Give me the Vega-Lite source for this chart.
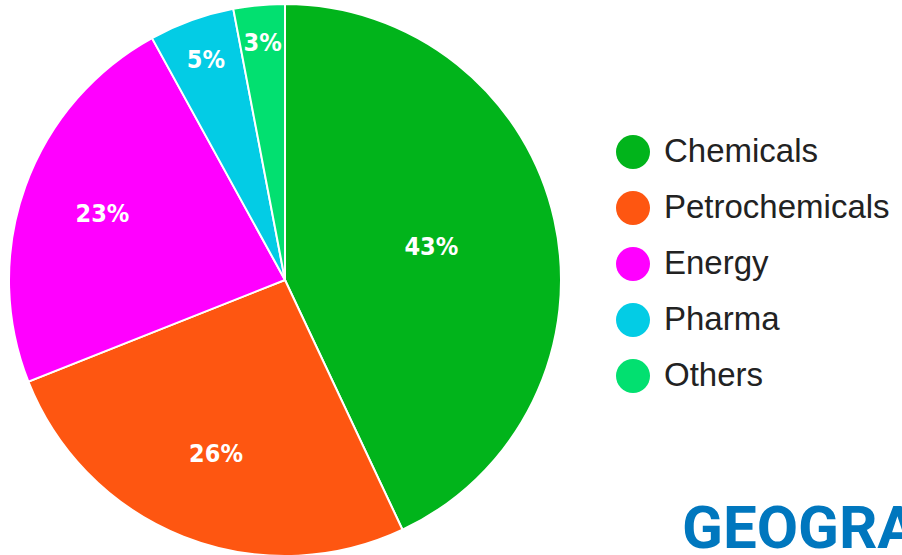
{
  "$schema": "https://vega.github.io/schema/vega-lite/v6.json",
  "width": 570,
  "height": 560,
  "autosize": {"type": "pad"},
  "padding": 0,
  "background": "white",
  "config": {"view": {"stroke": null}},
  "title": {
    "text": "GEOGRAPHY",
    "orient": "bottom",
    "anchor": "start",
    "frame": "group",
    "baseline": "alphabetic",
    "offset": -12,
    "dx": 682,
    "font": "Roboto",
    "fontWeight": "bold",
    "fontSize": 60,
    "color": "#0077BE"
  },
  "data": {
    "values": [
      {"sector": "Chemicals", "share": 0.43},
      {"sector": "Petrochemicals", "share": 0.26},
      {"sector": "Energy", "share": 0.23},
      {"sector": "Pharma", "share": 0.05},
      {"sector": "Others", "share": 0.03}
    ]
  },
  "encoding": {
    "theta": {"field": "share", "type": "quantitative", "stack": true},
    "order": {"field": "share", "type": "quantitative", "sort": "descending"},
    "color": {
      "field": "sector",
      "type": "nominal",
      "sort": ["Chemicals", "Petrochemicals", "Energy", "Pharma", "Others"],
      "scale": {
        "domain": ["Chemicals", "Petrochemicals", "Energy", "Pharma", "Others"],
        "range": ["#01B41B", "#FE5611", "#FF00FF", "#03CCE5", "#02E070"]
      },
      "legend": {
        "title": null,
        "orient": "none",
        "legendX": 616,
        "legendY": 135,
        "padding": 0,
        "symbolType": "circle",
        "symbolSize": 1156,
        "symbolStrokeWidth": 0,
        "symbolOpacity": 1,
        "labelFont": "Liberation Sans",
        "labelFontSize": 33,
        "labelColor": "#222222",
        "labelOffset": 14,
        "rowPadding": 22,
        "labelLimit": 400
      }
    }
  },
  "layer": [
    {
      "mark": {"type": "arc", "outerRadius": 276, "stroke": "white", "strokeWidth": 2}
    },
    {
      "mark": {
        "type": "text",
        "font": "DejaVu Sans Condensed, Roboto",
        "fontWeight": "bold",
        "fontSize": 25,
        "baseline": "middle",
        "align": "center"
      },
      "encoding": {
        "text": {"field": "share", "type": "quantitative", "format": ".0%"},
        "radius": {
          "field": "share",
          "type": "quantitative",
          "scale": {"type": "linear", "zero": false, "domain": [0.03, 0.43], "range": [238, 150]}
        },
        "color": {"value": "white"}
      }
    }
  ]
}
